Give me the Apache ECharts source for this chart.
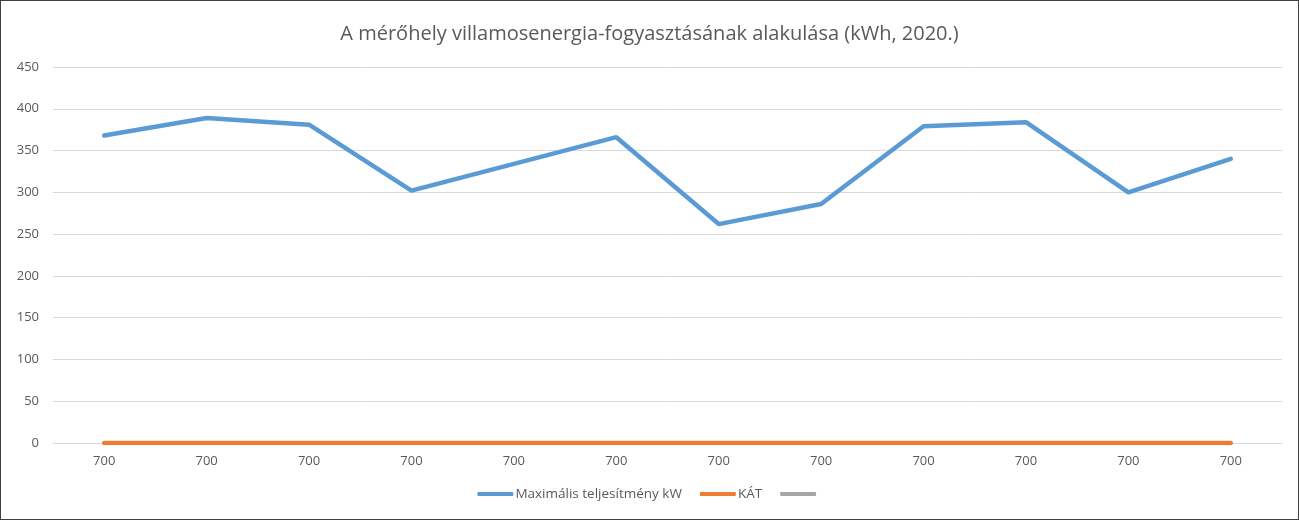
<!DOCTYPE html>
<html>
<head>
<meta charset="utf-8">
<script src="https://cdn.jsdelivr.net/npm/echarts@6/dist/echarts.min.js"></script>
<style>
html,body{margin:0;padding:0;background:#fff;}
#chart{width:1297px;height:518px;border:1px solid #404040;}
</style>
</head>
<body>
<div id="chart"></div>
<script>
// adatok
var categories = ['700','700','700','700','700','700','700','700','700','700','700','700'];
var maxTeljesitmeny = [368, 389, 381, 302, 334, 366, 262, 286, 379, 384, 300, 340];
var katData = [0, 0, 0, 0, 0, 0, 0, 0, 0, 0, 0, 0];
var harmadikData = [];
var yTicks = {min: 0, max: 450, interval: 50};

var myChart = echarts.init(document.getElementById('chart'));
var fontFam = '"Open Sans", "Noto Sans", sans-serif';
var option = {
    backgroundColor: '#fff',
    title: {
        text: 'A mérőhely villamosenergia-fogyasztásának alakulása (kWh, 2020.)',
        left: 'center',
        top: 18,
        textStyle: {color: '#595959', fontSize: 20, fontWeight: 'normal', fontFamily: fontFam}
    },
    legend: {
        bottom: 13,
        left: 'center',
        itemWidth: 36,
        itemHeight: 4,
        itemGap: 18,
        icon: 'roundRect',
        textStyle: {color: '#595959', fontSize: 13.5, padding: [0, 0, 0, -3], fontFamily: fontFam},
        data: ['Maximális teljesítmény kW', 'KÁT', ' ']
    },
    grid: {
        left: 52,
        right: 16,
        top: 66,
        bottom: 76
    },
    xAxis: {
        type: 'category',
        boundaryGap: true,
        data: categories,
        axisLine: {lineStyle: {color: '#d9d9d9'}},
        axisTick: {show: false},
        axisLabel: {color: '#595959', fontSize: 13, margin: 12, fontFamily: fontFam}
    },
    yAxis: {
        type: 'value',
        min: yTicks.min,
        max: yTicks.max,
        interval: yTicks.interval,
        axisLine: {show: false},
        axisTick: {show: false},
        axisLabel: {color: '#595959', fontSize: 13, margin: 14, fontFamily: fontFam},
        splitLine: {lineStyle: {color: '#d9d9d9'}}
    },
    series: [
        {
            name: ' ',
            type: 'line',
            data: harmadikData,
            symbol: 'none',
            lineStyle: {width: 4.5, color: '#a5a5a5', cap: 'round'},
            itemStyle: {color: '#a5a5a5'},
            z: 1
        },
        {
            name: 'Maximális teljesítmény kW',
            type: 'line',
            data: maxTeljesitmeny,
            symbol: 'none',
            lineStyle: {width: 4.5, color: '#5b9bd5', cap: 'round'},
            itemStyle: {color: '#5b9bd5'},
            z: 3
        },
        {
            name: 'KÁT',
            type: 'line',
            data: katData,
            symbol: 'none',
            lineStyle: {width: 4.5, color: '#ed7d31', cap: 'round'},
            itemStyle: {color: '#ed7d31'},
            z: 2
        }
    ]
};
myChart.setOption(option);
</script>
</body>
</html>
